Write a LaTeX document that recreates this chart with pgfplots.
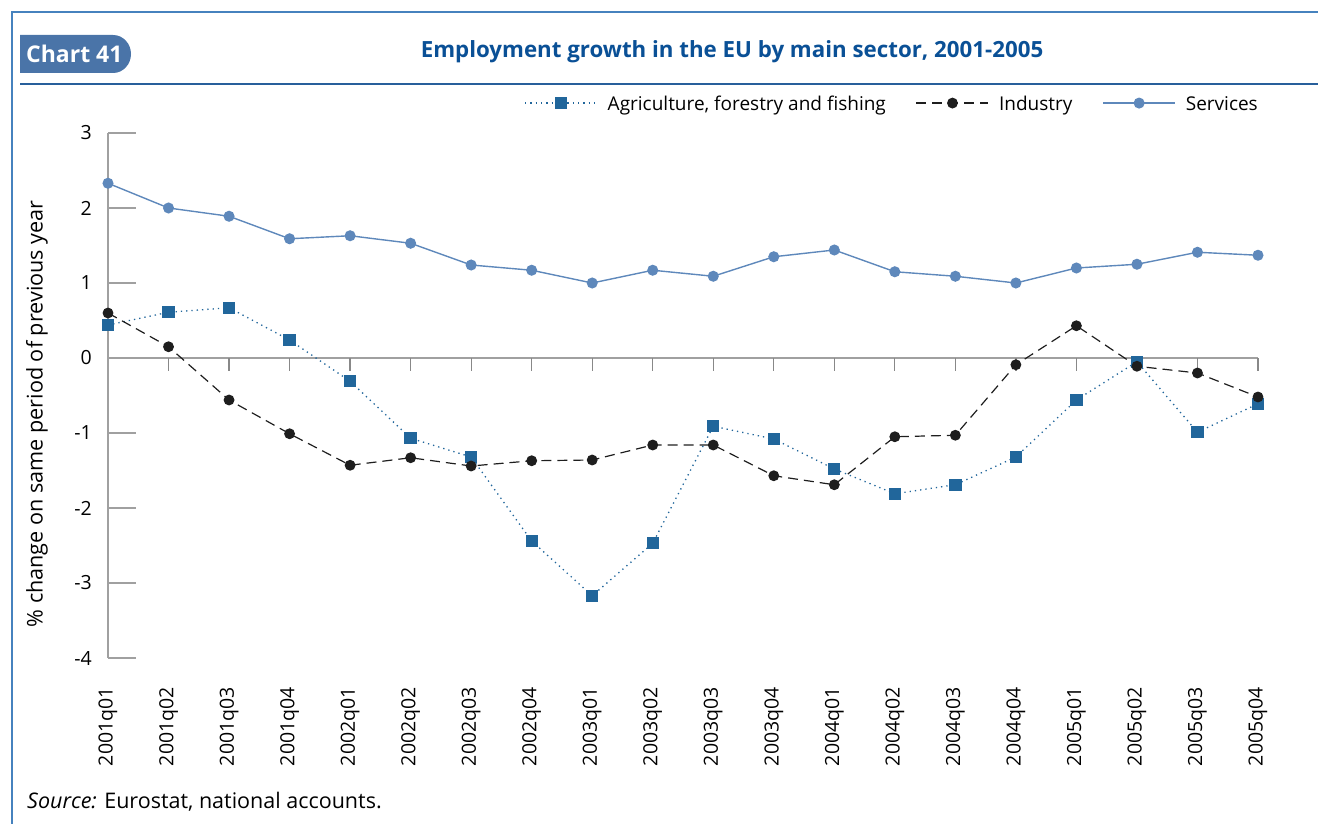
\documentclass[border=0pt]{standalone}
\usepackage{fontspec}
\setmainfont{Open Sans}
\usepackage{pgfplots}
\pgfplotsset{compat=1.18}
\definecolor{framecol}{RGB}{70,130,190}
\definecolor{rulecol}{RGB}{40,95,155}
\definecolor{badgecol}{RGB}{74,116,168}
\definecolor{titlecol}{RGB}{10,80,150}
\definecolor{servcol}{RGB}{94,136,187}
\definecolor{agricol}{RGB}{33,102,155}
\definecolor{indcol}{RGB}{30,30,30}
\definecolor{axisgray}{RGB}{160,160,160}
\begin{document}
\begin{tikzpicture}[x=1pt,y=1pt]
\useasboundingbox (0pt,0pt) rectangle (1318pt,-824pt);
\draw[framecol, line width=2.2pt] (12pt,-824pt) -- (12pt,-12pt) -- (1318pt,-12pt);
\draw[rulecol, line width=2pt] (20pt,-84pt) -- (1318pt,-84pt);
\fill[badgecol] (20pt,-35pt) -- (113pt,-35pt) to[out=0,in=90] (131pt,-54pt) to[out=-90,in=0] (113pt,-73pt) -- (20pt,-73pt) -- cycle;
\node[white, font=\bfseries\fontsize{23}{27}\selectfont, anchor=west, inner sep=0] at (26pt,-54pt) {Chart 41};
\node[titlecol, font=\bfseries\fontsize{22.3}{26}\selectfont, inner sep=0] at (732pt,-52pt) {Employment growth in the EU by main sector, 2001-2005};
\node[anchor=base west, inner sep=0, font=\fontsize{21.5}{25}\selectfont] at (27pt,-808pt) {\textit{Source:} Eurostat, national accounts.};
\begin{axis}[
  at={(108pt,-658pt)}, anchor=south west,
  scale only axis, width=1150pt, height=525pt,
  xmin=0, xmax=19, ymin=-4, ymax=3,
  axis x line=bottom, axis y line=left,
  x axis line style={draw=none},
  y axis line style={-, draw=axisgray, line width=1.3pt},
  tick align=inside, major tick length=28pt,
  x tick style={draw=none},
  y tick style={draw=axisgray, line width=1.3pt},
  ytick={-4,-3,-2,-1,0,1,2,3},
  xtick={0,...,19},
  xticklabels={2001q01,2001q02,2001q03,2001q04,2002q01,2002q02,2002q03,2002q04,2003q01,2003q02,2003q03,2003q04,2004q01,2004q02,2004q03,2004q04,2005q01,2005q02,2005q03,2005q04},
  xticklabel style={font=\fontsize{19.5}{22}\selectfont, rotate=90, anchor=east, inner sep=0pt},
  xticklabel shift=29pt,
  yticklabel style={font=\fontsize{19.5}{23}\selectfont, inner sep=0pt},
  yticklabel shift=16pt,
  /pgf/number format/assume math mode=true,
  ylabel={\% change on same period of previous year},
  every axis y label/.style={at={(rel axis cs:0,0.465)}, xshift=-71pt, rotate=90, anchor=center, font=\fontsize{21.6}{25}\selectfont},
  clip=false,
  legend columns=3,
  legend style={at={(rel axis cs:1,1.057)}, anchor=east, draw=none, fill=none, inner sep=0pt,
    font=\fontsize{19}{23}\selectfont,
    /tikz/every odd column/.append style={column sep=10pt},
    /tikz/every even column/.append style={column sep=30pt},
    nodes={inner sep=0pt, text depth=0pt}},
  legend cell align=left,
  legend image code/.code={\draw[mark repeat=2,mark phase=2,#1] plot coordinates {(0pt,0pt) (36pt,0pt) (72pt,0pt)};},
]
\draw[axisgray, line width=1.3pt] (axis cs:0,0) -- (axis cs:19,0);
\pgfplotsinvokeforeach{1,...,19}{\draw[axisgray!85!black, line width=1.3pt] (axis cs:#1,0) -- ++(0pt,-13pt);}
\addplot[agricol, line width=1.3pt, dash pattern=on 1.3pt off 4pt, mark=square*, mark size=5.5pt, mark options={solid}]
coordinates {(0,0.44) (1,0.61) (2,0.67) (3,0.24) (4,-0.31) (5,-1.07) (6,-1.32) (7,-2.44) (8,-3.17) (9,-2.47) (10,-0.91) (11,-1.08) (12,-1.48) (13,-1.81) (14,-1.69) (15,-1.32) (16,-0.56) (17,-0.05) (18,-0.99) (19,-0.61)};
\addlegendentry{Agriculture, forestry and fishing}
\addplot[indcol, line width=1.2pt, dash pattern=on 10pt off 6pt, mark=*, mark size=4.8pt, mark options={solid}]
coordinates {(0,0.60) (1,0.15) (2,-0.56) (3,-1.01) (4,-1.43) (5,-1.33) (6,-1.44) (7,-1.37) (8,-1.36) (9,-1.16) (10,-1.16) (11,-1.57) (12,-1.69) (13,-1.05) (14,-1.03) (15,-0.09) (16,0.43) (17,-0.11) (18,-0.20) (19,-0.52)};
\addlegendentry{Industry}
\addplot[servcol, line width=1.4pt, mark=*, mark size=4.8pt]
coordinates {(0,2.33) (1,2.00) (2,1.89) (3,1.59) (4,1.63) (5,1.53) (6,1.24) (7,1.17) (8,1.00) (9,1.17) (10,1.09) (11,1.35) (12,1.44) (13,1.15) (14,1.09) (15,1.00) (16,1.20) (17,1.25) (18,1.41) (19,1.37)};
\addlegendentry{Services}
\end{axis}
\end{tikzpicture}
\end{document}
